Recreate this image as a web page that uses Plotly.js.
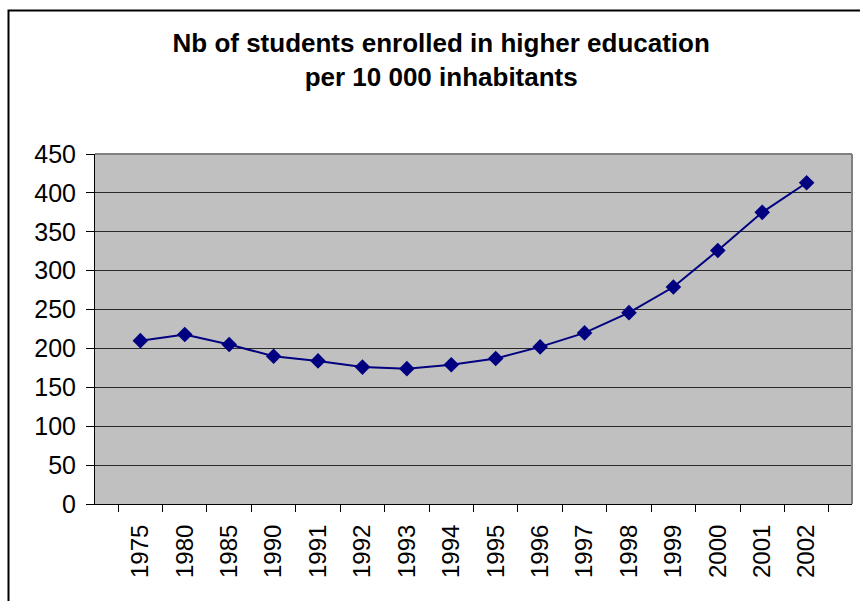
<!DOCTYPE html>
<html>
<head>
<meta charset="utf-8">
<script src="https://cdn.plot.ly/plotly-3.0.1.min.js"></script>
<style>
html,body{margin:0;padding:0;background:#fff;}
#chart{width:860px;height:601px;}
</style>
</head>
<body>
<div id="chart"></div>
<script>
const years = ['1975','1980','1985','1990','1991','1992','1993','1994','1995','1996','1997','1998','1999','2000','2001','2002'];
const students = [210, 218, 205, 190, 184, 176, 174, 179, 187, 202, 220, 246, 279, 326, 375, 413];
const yTicks = [0, 50, 100, 150, 200, 250, 300, 350, 400, 450];
const chartTitle = 'Nb of students enrolled in higher education<br>per 10 000 inhabitants';

const trace = {
  x: years,
  y: students,
  type: 'scatter',
  mode: 'lines+markers',
  line: {color: '#000080', width: 2},
  marker: {symbol: 'diamond', size: 12, color: '#000080'},
  cliponaxis: false,
  hoverinfo: 'x+y'
};

const layout = {
  width: 860,
  height: 601,
  margin: {l: 95, r: 8, t: 154, b: 97},
  paper_bgcolor: '#ffffff',
  plot_bgcolor: '#C0C0C0',
  showlegend: false,
  font: {family: 'Liberation Sans, Arial, sans-serif', color: '#000'},
  title: {
    text: '<b>' + chartTitle + '</b>',
    font: {family: 'Liberation Sans, Arial, sans-serif', size: 26, color: '#000'},
    xref: 'container', x: 0.513, xanchor: 'center',
    yref: 'container', y: 1 - 52/601, yanchor: 'top'
  },
  xaxis: {
    type: 'category',
    tickson: 'boundaries',
    ticks: 'outside',
    ticklen: 7,
    tickcolor: '#000',
    tickwidth: 1,
    showline: true,
    linecolor: '#000',
    linewidth: 1,
    showgrid: false,
    tickangle: -90,
    tickfont: {size: 24, family: 'Liberation Sans, Arial, sans-serif'},
    ticklabelstandoff: 10,
    zeroline: false
  },
  yaxis: {
    range: [0, 450],
    tickvals: yTicks,
    ticktext: yTicks.map(String),
    ticks: 'outside',
    ticklen: 8,
    tickcolor: '#000',
    tickwidth: 1,
    showline: true,
    linecolor: '#000',
    linewidth: 1,
    showgrid: true,
    gridcolor: '#2a2a2a',
    gridwidth: 1,
    tickfont: {size: 25, family: 'Liberation Sans, Arial, sans-serif'},
    ticklabelstandoff: 5,
    zeroline: false
  },
  shapes: [
    {type: 'line', xref: 'paper', yref: 'paper', x0: 0, x1: 1, y0: 1, y1: 1,
     line: {color: '#808080', width: 2}},
    {type: 'line', xref: 'paper', yref: 'paper', x0: 1, x1: 1, y0: 0, y1: 1,
     line: {color: '#808080', width: 2}},
    {type: 'rect', xref: 'paper', yref: 'paper',
     x0: (8.5 - 95) / 757, x1: (875 - 95) / 757,
     y0: (504 - 620) / 350, y1: (504 - 10.5) / 350,
     line: {color: '#000', width: 2}, fillcolor: 'rgba(0,0,0,0)'}
  ]
};

Plotly.newPlot('chart', [trace], layout, {displayModeBar: false});
</script>
</body>
</html>
